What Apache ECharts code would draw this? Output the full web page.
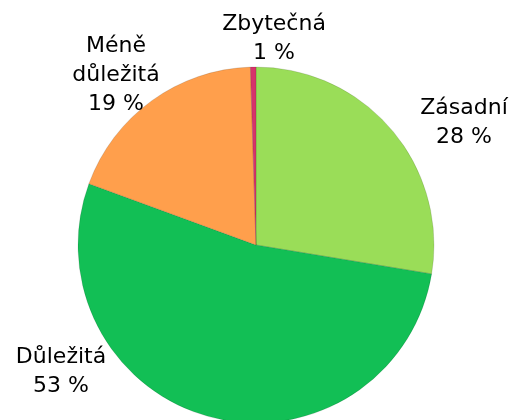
<!DOCTYPE html>
<html>
<head>
<meta charset="utf-8">
<script src="https://cdn.jsdelivr.net/npm/echarts@6/dist/echarts.min.js"></script>
<style>
  html, body { margin: 0; padding: 0; background: #fff; }
  #main { width: 515px; height: 420px; }
</style>
</head>
<body>
<div id="main"></div>
<script>
// data (shares in %, labels show them rounded)
const categories = ['Zásadní', 'Důležitá', 'Méně\ndůležitá', 'Zbytečná']
const shares = [27.6, 53.0, 18.9, 0.5]
const colors = ['#9add58', '#12bf55', '#ff9f4c', '#d6336b']

// where each label sits (centre of the text block)
const labelPos = [[464, 123], [61, 372], [116, 75], [274, 39]]

const myChart = echarts.init(document.getElementById('main'))
myChart.setOption({
  animation: false,
  series: [
    {
      type: 'pie',
      center: [256, 245],
      radius: [0, 178],
      startAngle: 90,
      clockwise: true,
      itemStyle: {
        borderColor: 'rgba(0,0,0,0.12)',
        borderWidth: 1
      },
      label: {
        show: true,
        position: 'outside',
        formatter: p => p.name + '\n' + Math.round(p.value) + ' %',
        fontFamily: 'DejaVu Sans',
        fontSize: 22,
        lineHeight: 29,
        color: '#000',
        align: 'center',
        overflow: 'none'
      },
      labelLine: { show: false },
      labelLayout: function (params) {
        const p = labelPos[params.dataIndex]
        return { x: p[0], y: p[1], align: 'center', verticalAlign: 'middle', hideOverlap: false }
      },
      data: categories.map((name, i) => ({
        name: name,
        value: shares[i],
        itemStyle: { color: colors[i] }
      }))
    }
  ]
})
</script>
</body>
</html>
